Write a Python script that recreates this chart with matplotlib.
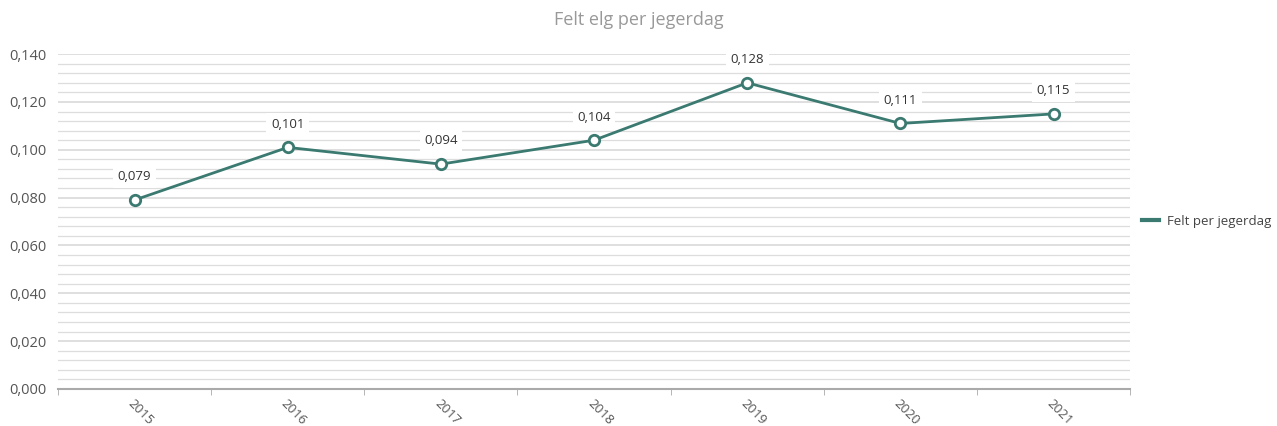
import matplotlib.pyplot as plt
from matplotlib.ticker import MultipleLocator, FuncFormatter

years = ["2015", "2016", "2017", "2018", "2019", "2020", "2021"]
felt_per_jegerdag = [0.079, 0.101, 0.094, 0.104, 0.128, 0.111, 0.115]

LINE = "#3b7a70"


def komma(v, pos=None):
    return f"{v:.3f}".replace(".", ",")


def main():
    plt.rcParams['font.family'] = ['Open Sans', 'DejaVu Sans']
    fig = plt.figure(figsize=(12.77, 4.26), dpi=100)
    ax = fig.add_axes([0.0454, 0.0869, 0.8396, 0.7861])

    x = list(range(len(years)))
    ax.plot(x, felt_per_jegerdag, color=LINE, lw=2, marker="o", ms=7.5,
            mfc="white", mec=LINE, mew=2, label="Felt per jegerdag", zorder=5)

    for xi, v in zip(x, felt_per_jegerdag):
        ax.annotate(komma(v), (xi, v), xytext=(0, 12), textcoords="offset points",
                    ha="center", va="bottom", fontsize=9.5, color="#333333",
                    bbox=dict(boxstyle="square,pad=0.35", fc="white", ec="none"),
                    zorder=6)

    ax.set_xlim(-0.5, len(years) - 0.5)
    ax.set_ylim(0, 0.14)
    ax.yaxis.set_major_locator(MultipleLocator(0.02))
    ax.yaxis.set_minor_locator(MultipleLocator(0.004))
    ax.yaxis.set_major_formatter(FuncFormatter(komma))
    ax.grid(axis="y", which="major", color="#d9d9d9", lw=1.2)
    ax.grid(axis="y", which="minor", color="#dddddd", lw=0.9)
    ax.set_axisbelow(True)

    ax.set_xticks(x)
    ax.set_xticklabels(years, rotation=-45, ha="left", va="top",
                       rotation_mode="anchor", fontsize=9.5, color="#555555")
    ax.set_xticks([i - 0.5 for i in range(len(years) + 1)], minor=True)
    ax.tick_params(axis="x", which="major", length=0, pad=6)
    ax.tick_params(axis="x", which="minor", length=4, color="#aaaaaa")
    ax.tick_params(axis="y", which="both", length=0, labelsize=10.5,
                   labelcolor="#555555", pad=8)

    for s in ["top", "right", "left"]:
        ax.spines[s].set_visible(False)
    ax.spines["bottom"].set_color("#aaaaaa")
    ax.spines["bottom"].set_linewidth(1.5)

    fig.suptitle("Felt elg per jegerdag", x=0.5, y=0.975, fontsize=13,
                 color="#999999")

    leg = ax.legend(loc="center left", bbox_to_anchor=(1.0, 0.5), frameon=False,
                    fontsize=9.5, handlelength=1.3, handletextpad=0.6,
                    labelcolor="#444444")
    for h in leg.get_lines():
        h.set_marker("")
        h.set_linewidth(3)

    plt.savefig("out.png")


if __name__ == "__main__":
    main()
